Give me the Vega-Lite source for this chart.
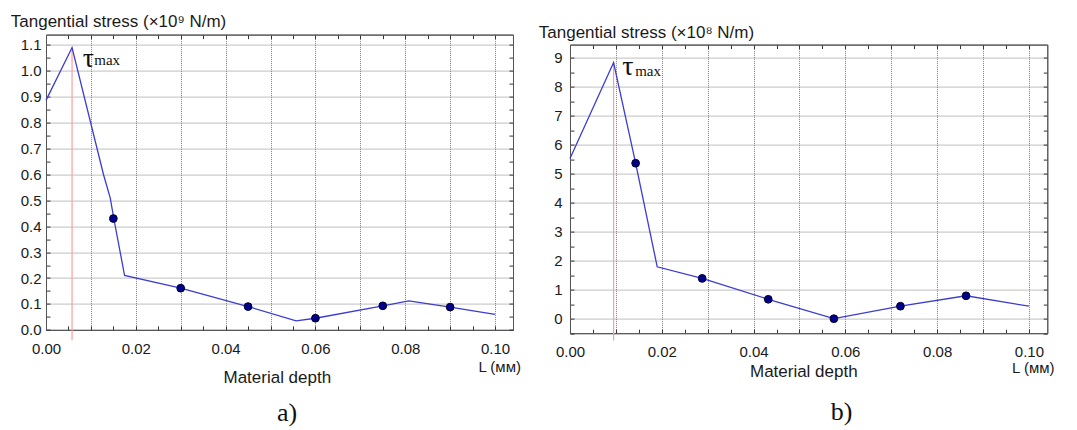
{
  "$schema": "https://vega.github.io/schema/vega-lite/v6.json",
  "background": "white",
  "padding": {"left": 9, "top": 11.6, "right": 0, "bottom": 0},
  "bounds": "flush",
  "spacing": 57,
  "datasets": {
    "stressA": [
      {"depth": 0, "stress": 0.886},
      {"depth": 0.0058, "stress": 1.09},
      {"depth": 0.0128, "stress": 0.6},
      {"depth": 0.0143, "stress": 0.51},
      {"depth": 0.0151, "stress": 0.43},
      {"depth": 0.0175, "stress": 0.21},
      {"depth": 0.03, "stress": 0.161},
      {"depth": 0.045, "stress": 0.09},
      {"depth": 0.0557, "stress": 0.035},
      {"depth": 0.06, "stress": 0.045},
      {"depth": 0.075, "stress": 0.093},
      {"depth": 0.0808, "stress": 0.112},
      {"depth": 0.09, "stress": 0.088},
      {"depth": 0.1, "stress": 0.06}
    ],
    "dotsA": [
      {"depth": 0.015, "stress": 0.43},
      {"depth": 0.03, "stress": 0.161},
      {"depth": 0.045, "stress": 0.09},
      {"depth": 0.06, "stress": 0.045},
      {"depth": 0.075, "stress": 0.093},
      {"depth": 0.09, "stress": 0.088}
    ],
    "stressB": [
      {"depth": 0, "stress": 5.52},
      {"depth": 0.0095, "stress": 8.83},
      {"depth": 0.0143, "stress": 5.36},
      {"depth": 0.019, "stress": 1.79},
      {"depth": 0.0288, "stress": 1.39},
      {"depth": 0.0432, "stress": 0.67},
      {"depth": 0.0575, "stress": 0.0},
      {"depth": 0.072, "stress": 0.43},
      {"depth": 0.0863, "stress": 0.79},
      {"depth": 0.1, "stress": 0.43}
    ],
    "dotsB": [
      {"depth": 0.0143, "stress": 5.36},
      {"depth": 0.0288, "stress": 1.39},
      {"depth": 0.0432, "stress": 0.67},
      {"depth": 0.0575, "stress": 0.0},
      {"depth": 0.072, "stress": 0.43},
      {"depth": 0.0863, "stress": 0.79}
    ],
    "one": [{}]
  },
  "hconcat": [
    {
      "width": 467,
      "height": 295.3,
      "resolve": {"axis": {"x": "independent", "y": "independent"}},
      "layer": [
        {
          "data": {"name": "stressA"},
          "transform": [
            {"joinaggregate": [{"op": "max", "field": "stress", "as": "peak"}]},
            {"filter": "datum.stress == datum.peak"}
          ],
          "mark": {"type": "rule", "color": "#ff9d9d", "strokeWidth": 1.2},
          "encoding": {
            "x": {"field": "depth", "type": "quantitative", "scale": {"domain": [0, 0.104], "nice": false, "zero": false}, "axis": null},
            "y": {"field": "stress", "type": "quantitative", "scale": {"domain": [0, 1.14], "nice": false, "zero": false}, "axis": null},
            "y2": {"datum": -0.04}
          }
        },
        {
          "data": {"name": "stressA"},
          "mark": {"type": "line", "color": "#3c3cd2", "strokeWidth": 1.3},
          "encoding": {
            "x": {
              "field": "depth", "type": "quantitative",
              "scale": {"domain": [0, 0.104], "nice": false, "zero": false},
              "axis": {
                "orient": "bottom",
                "values": [0, 0.005, 0.01, 0.015, 0.02, 0.025, 0.03, 0.035, 0.04, 0.045, 0.05, 0.055, 0.06, 0.065, 0.07, 0.075, 0.08, 0.085, 0.09, 0.095, 0.1],
                "labelExpr": "round(datum.value*200) % 4 == 0 ? format(datum.value, '.2f') : ''",
                "grid": true,
                "gridOpacity": {"condition": {"test": "round(datum.value*200) % 2 == 0", "value": 1}, "value": 0},
                "labelPadding": 15.5,
                "title": "Material depth",
                "titleX": 230.8,
                "titleY": 52.7,
                "titleAlign": "center",
                "titleBaseline": "alphabetic"
              }
            },
            "y": {
              "field": "stress", "type": "quantitative",
              "scale": {"domain": [0, 1.14], "nice": false, "zero": false},
              "axis": {
                "orient": "left",
                "values": [0, 0.05, 0.1, 0.15, 0.2, 0.25, 0.3, 0.35, 0.4, 0.45, 0.5, 0.55, 0.6, 0.65, 0.7, 0.75, 0.8, 0.85, 0.9, 0.95, 1.0, 1.05, 1.1],
                "labelExpr": "round(datum.value*20) % 2 == 0 ? format(datum.value, '.1f') : ''",
                "grid": true,
                "gridOpacity": {"condition": {"test": "round(datum.value*20) % 2 == 0", "value": 1}, "value": 0},
                "labelPadding": 9,
                "title": "Tangential stress (×10⁹ N/m)",
                "titleAngle": 0,
                "titleX": -35.7,
                "titleY": -8,
                "titleAlign": "left",
                "titleBaseline": "alphabetic"
              }
            }
          }
        },
        {
          "data": {"name": "dotsA"},
          "mark": {"type": "point", "filled": true, "color": "#00008b", "stroke": "#000022", "strokeWidth": 1, "size": 60, "opacity": 1},
          "encoding": {
            "x": {
              "field": "depth", "type": "quantitative",
              "scale": {"domain": [0, 0.104], "nice": false, "zero": false},
              "axis": {"orient": "top", "values": [0, 0.005, 0.01, 0.015, 0.02, 0.025, 0.03, 0.035, 0.04, 0.045, 0.05, 0.055, 0.06, 0.065, 0.07, 0.075, 0.08, 0.085, 0.09, 0.095, 0.1], "labels": false, "grid": false, "title": null}
            },
            "y": {
              "field": "stress", "type": "quantitative",
              "scale": {"domain": [0, 1.14], "nice": false, "zero": false},
              "axis": {"orient": "right", "values": [0, 0.05, 0.1, 0.15, 0.2, 0.25, 0.3, 0.35, 0.4, 0.45, 0.5, 0.55, 0.6, 0.65, 0.7, 0.75, 0.8, 0.85, 0.9, 0.95, 1.0, 1.05, 1.1], "labels": false, "grid": false, "title": null}
            }
          }
        },
        {
          "data": {"name": "one"},
          "mark": {"type": "text", "font": "Liberation Serif", "fontSize": 28, "align": "left", "baseline": "alphabetic", "color": "#111"},
          "encoding": {
            "x": {"datum": 0.0082, "type": "quantitative", "scale": {"domain": [0, 0.104], "nice": false, "zero": false}, "axis": null},
            "y": {"datum": 1.0136, "type": "quantitative", "scale": {"domain": [0, 1.14], "nice": false, "zero": false}, "axis": null},
            "text": {"value": "τ"}
          }
        },
        {
          "data": {"name": "one"},
          "mark": {"type": "text", "font": "Liberation Serif", "fontSize": 15, "align": "left", "baseline": "alphabetic", "color": "#111"},
          "encoding": {
            "x": {"datum": 0.01075, "type": "quantitative", "scale": {"domain": [0, 0.104], "nice": false, "zero": false}, "axis": null},
            "y": {"datum": 1.022, "type": "quantitative", "scale": {"domain": [0, 1.14], "nice": false, "zero": false}, "axis": null},
            "text": {"value": "max"}
          }
        },
        {
          "data": {"name": "one"},
          "mark": {"type": "text", "font": "Liberation Sans", "fontSize": 15, "align": "left", "baseline": "alphabetic", "color": "#1a1a1a"},
          "encoding": {
            "x": {"datum": 0.0963, "type": "quantitative", "scale": {"domain": [0, 0.104], "nice": false, "zero": false}, "axis": null},
            "y": {"datum": -0.162, "type": "quantitative", "scale": {"domain": [0, 1.14], "nice": false, "zero": false}, "axis": null},
            "text": {"value": "L (мм)"}
          }
        },
        {
          "data": {"name": "one"},
          "mark": {"type": "text", "font": "Liberation Serif", "fontSize": 26, "align": "center", "baseline": "alphabetic", "color": "#111"},
          "encoding": {
            "x": {"datum": 0.0537, "type": "quantitative", "scale": {"domain": [0, 0.104], "nice": false, "zero": false}, "axis": null},
            "y": {"datum": -0.35, "type": "quantitative", "scale": {"domain": [0, 1.14], "nice": false, "zero": false}, "axis": null},
            "text": {"value": "a)"}
          }
        }
      ]
    },
    {
      "vconcat": [
        {
          "width": 477.3,
          "height": 9.7,
          "data": {"name": "one"},
          "mark": {"type": "text"},
          "encoding": {"text": {"value": ""}},
          "view": {"stroke": null}
        },
        {
          "width": 477.3,
          "height": 288.6,
          "resolve": {"axis": {"x": "independent", "y": "independent"}},
          "layer": [
            {
              "data": {"name": "stressB"},
              "transform": [
                {"joinaggregate": [{"op": "max", "field": "stress", "as": "peak"}]},
                {"filter": "datum.stress == datum.peak"}
              ],
              "mark": {"type": "rule", "color": "#ff9d9d", "strokeWidth": 1.2},
              "encoding": {
                "x": {"field": "depth", "type": "quantitative", "scale": {"domain": [0, 0.104], "nice": false, "zero": false}, "axis": null},
                "y": {"field": "stress", "type": "quantitative", "scale": {"domain": [-0.5, 9.45], "nice": false, "zero": false}, "axis": null},
                "y2": {"datum": -0.75}
              }
            },
            {
              "data": {"name": "stressB"},
              "mark": {"type": "line", "color": "#3c3cd2", "strokeWidth": 1.3},
              "encoding": {
                "x": {
                  "field": "depth", "type": "quantitative",
                  "scale": {"domain": [0, 0.104], "nice": false, "zero": false},
                  "axis": {
                    "orient": "bottom",
                    "values": [0, 0.005, 0.01, 0.015, 0.02, 0.025, 0.03, 0.035, 0.04, 0.045, 0.05, 0.055, 0.06, 0.065, 0.07, 0.075, 0.08, 0.085, 0.09, 0.095, 0.1],
                    "labelExpr": "round(datum.value*200) % 4 == 0 ? format(datum.value, '.2f') : ''",
                    "grid": true,
                    "gridOpacity": {"condition": {"test": "round(datum.value*200) % 2 == 0", "value": 1}, "value": 0},
                    "labelPadding": 15.5,
                    "title": "Material depth",
                    "titleX": 233.3,
                    "titleY": 43.7,
                    "titleAlign": "center",
                    "titleBaseline": "alphabetic"
                  }
                },
                "y": {
                  "field": "stress", "type": "quantitative",
                  "scale": {"domain": [-0.5, 9.45], "nice": false, "zero": false},
                  "axis": {
                    "orient": "left",
                    "values": [-0.5, 0, 0.5, 1, 1.5, 2, 2.5, 3, 3.5, 4, 4.5, 5, 5.5, 6, 6.5, 7, 7.5, 8, 8.5, 9],
                    "labelExpr": "round(datum.value*2) % 2 == 0 ? format(datum.value, '.0f') : ''",
                    "grid": true,
                    "gridOpacity": {"condition": {"test": "round(datum.value*2) % 2 == 0", "value": 1}, "value": 0},
                    "labelPadding": 12,
                    "title": "Tangential stress (×10⁸ N/m)",
                    "titleAngle": 0,
                    "titleX": -31.7,
                    "titleY": -6.7,
                    "titleAlign": "left",
                    "titleBaseline": "alphabetic"
                  }
                }
              }
            },
            {
              "data": {"name": "dotsB"},
              "mark": {"type": "point", "filled": true, "color": "#00008b", "stroke": "#000022", "strokeWidth": 1, "size": 60, "opacity": 1},
              "encoding": {
                "x": {
                  "field": "depth", "type": "quantitative",
                  "scale": {"domain": [0, 0.104], "nice": false, "zero": false},
                  "axis": {"orient": "top", "values": [0, 0.005, 0.01, 0.015, 0.02, 0.025, 0.03, 0.035, 0.04, 0.045, 0.05, 0.055, 0.06, 0.065, 0.07, 0.075, 0.08, 0.085, 0.09, 0.095, 0.1], "labels": false, "grid": false, "title": null}
                },
                "y": {
                  "field": "stress", "type": "quantitative",
                  "scale": {"domain": [-0.5, 9.45], "nice": false, "zero": false},
                  "axis": {"orient": "right", "values": [-0.5, 0, 0.5, 1, 1.5, 2, 2.5, 3, 3.5, 4, 4.5, 5, 5.5, 6, 6.5, 7, 7.5, 8, 8.5, 9], "labels": false, "grid": false, "title": null}
                }
              }
            },
            {
              "data": {"name": "one"},
              "mark": {"type": "text", "font": "Liberation Serif", "fontSize": 28, "align": "left", "baseline": "alphabetic", "color": "#111"},
              "encoding": {
                "x": {"datum": 0.0114, "type": "quantitative", "scale": {"domain": [0, 0.104], "nice": false, "zero": false}, "axis": null},
                "y": {"datum": 8.4, "type": "quantitative", "scale": {"domain": [-0.5, 9.45], "nice": false, "zero": false}, "axis": null},
                "text": {"value": "τ"}
              }
            },
            {
              "data": {"name": "one"},
              "mark": {"type": "text", "font": "Liberation Serif", "fontSize": 15, "align": "left", "baseline": "alphabetic", "color": "#111"},
              "encoding": {
                "x": {"datum": 0.0142, "type": "quantitative", "scale": {"domain": [0, 0.104], "nice": false, "zero": false}, "axis": null},
                "y": {"datum": 8.36, "type": "quantitative", "scale": {"domain": [-0.5, 9.45], "nice": false, "zero": false}, "axis": null},
                "text": {"value": "max"}
              }
            },
            {
              "data": {"name": "one"},
              "mark": {"type": "text", "font": "Liberation Sans", "fontSize": 15, "align": "left", "baseline": "alphabetic", "color": "#1a1a1a"},
              "encoding": {
                "x": {"datum": 0.0963, "type": "quantitative", "scale": {"domain": [0, 0.104], "nice": false, "zero": false}, "axis": null},
                "y": {"datum": -1.88, "type": "quantitative", "scale": {"domain": [-0.5, 9.45], "nice": false, "zero": false}, "axis": null},
                "text": {"value": "L (мм)"}
              }
            },
            {
              "data": {"name": "one"},
              "mark": {"type": "text", "font": "Liberation Serif", "fontSize": 26, "align": "center", "baseline": "alphabetic", "color": "#111"},
              "encoding": {
                "x": {"datum": 0.0592, "type": "quantitative", "scale": {"domain": [0, 0.104], "nice": false, "zero": false}, "axis": null},
                "y": {"datum": -3.5, "type": "quantitative", "scale": {"domain": [-0.5, 9.45], "nice": false, "zero": false}, "axis": null},
                "text": {"value": "b)"}
              }
            }
          ]
        }
      ],
      "spacing": 0,
      "bounds": "flush"
    }
  ],
  "config": {
    "view": {"stroke": "#555", "strokeWidth": 1},
    "axis": {
      "domainColor": "#555",
      "tickColor": "#333",
      "tickWidth": 1,
      "tickSize": -4,
      "labelColor": "#1a1a1a",
      "labelFont": "Liberation Sans",
      "labelFontSize": 15,
      "titleFont": "Liberation Sans",
      "titleFontSize": 17,
      "titleFontWeight": "normal",
      "titleColor": "#1a1a1a",
      "gridColor": "#808080",
      "gridDash": [1, 1],
      "gridWidth": 1,
      "labelFlush": false,
      "labelOverlap": false
    }
  }
}
